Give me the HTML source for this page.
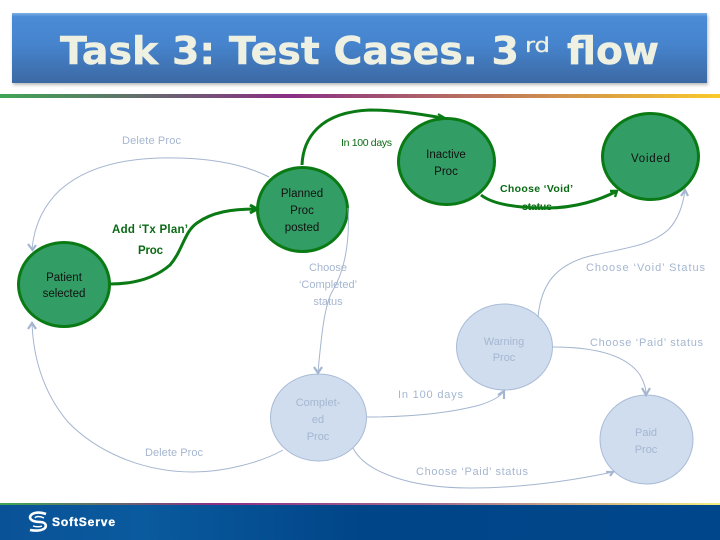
<!DOCTYPE html>
<html>
<head>
<meta charset="utf-8">
<style>
html,body{margin:0;padding:0;background:#fff;width:720px;height:540px;overflow:hidden}
svg{display:block}
text{font-family:"Liberation Sans",sans-serif;font-size:11.5px}
.c{text-anchor:middle}
.k{fill:#111}
.l{fill:#a5b6d0;font-size:11px}
.g{fill:#0a6a14;font-weight:bold}
.t{font-family:"DejaVu Sans",sans-serif;font-weight:bold;fill:#eef1e2}
</style>
</head>
<body>
<svg width="720" height="540" viewBox="0 0 720 540" xmlns="http://www.w3.org/2000/svg">
<defs>
<linearGradient id="bar" x1="0" y1="0" x2="0" y2="1">
<stop offset="0" stop-color="#7fb0e2"/>
<stop offset="0.05" stop-color="#4a8bd6"/>
<stop offset="0.45" stop-color="#4684cd"/>
<stop offset="1" stop-color="#3c69a3"/>
</linearGradient>
<linearGradient id="rule" x1="0" y1="0" x2="1" y2="0">
<stop offset="0" stop-color="#3fa654"/>
<stop offset="0.4" stop-color="#8a2f85"/>
<stop offset="1" stop-color="#fbc92a"/>
</linearGradient>
<linearGradient id="foot" x1="0" y1="0" x2="1" y2="0">
<stop offset="0" stop-color="#0a5298"/>
<stop offset="0.2" stop-color="#0a5a9e"/>
<stop offset="0.5" stop-color="#004588"/>
<stop offset="1" stop-color="#00468a"/>
</linearGradient>
<linearGradient id="rule2" x1="0" y1="0" x2="1" y2="0">
<stop offset="0" stop-color="#3fa654"/>
<stop offset="0.3" stop-color="#8a2f85"/>
<stop offset="0.6" stop-color="#a06a90"/>
<stop offset="1" stop-color="#f4ee80"/>
</linearGradient>
<filter id="sh" x="-2%" y="-10%" width="104%" height="125%"><feGaussianBlur stdDeviation="1.5"/></filter>
</defs>

<rect x="13" y="15" width="695" height="70" fill="#777" opacity="0.5" filter="url(#sh)"/>
<rect x="12" y="13" width="695" height="70" fill="url(#bar)"/>
<text class="t" x="60" y="64" style="font-size:38px" stroke="#eef1e2" stroke-width="0.5" textLength="459" lengthAdjust="spacingAndGlyphs">Task 3: Test Cases. 3</text>
<text class="t" x="525" y="52" style="font-size:20px;font-weight:normal" stroke="#eef1e2" stroke-width="0.3" textLength="25" lengthAdjust="spacingAndGlyphs">rd</text>
<text class="t" x="567" y="64" style="font-size:38px" stroke="#eef1e2" stroke-width="0.5" textLength="92" lengthAdjust="spacingAndGlyphs">flow</text>
<rect x="0" y="94" width="720" height="4" fill="url(#rule)"/>

<g fill="#339d66" stroke="#0a7a14" stroke-width="3">
<ellipse cx="64" cy="284.5" rx="45.5" ry="42"/>
<ellipse cx="302.5" cy="209.5" rx="45" ry="42"/>
<ellipse cx="446.5" cy="161.5" rx="48" ry="43"/>
<ellipse cx="650.5" cy="156.5" rx="48" ry="43"/>
</g>
<g fill="#d0ddef" stroke="#a9bbd6" stroke-width="1">
<ellipse cx="318.5" cy="417.5" rx="48" ry="43.5"/>
<ellipse cx="504.5" cy="347" rx="48" ry="43"/>
<ellipse cx="646.5" cy="439.5" rx="46.5" ry="44.5"/>
</g>

<text class="g" x="522" y="210" style="font-size:10.5px" textLength="30" lengthAdjust="spacing">status</text>

<g fill="none" stroke="#a5b6d0" stroke-width="1">
<path d="M269,177 C240,162 200,157 160,158 C120,159 85,168 60,190 C42,207 34,228 32,249"/>
<path d="M348,208 C350,240 345,270 333,290 C324,305 321,340 318,372"/>
<path d="M283,450 C262,462 225,472 193,472 C140,472 95,450 68,422 C45,395 33,360 32,322"/>
<path d="M367,417 C410,417 450,413 480,405 C492,401 500,397 504,391"/>
<path d="M553,347 C590,347 625,353 640,375 C644,382 646,388 646,394"/>
<path d="M353,448 C365,472 410,488 470,488 C525,488 575,480 613,472"/>
<path d="M538,317 C541,285 555,265 590,256 C625,248 650,246 668,230 C678,220 683,205 685,190"/>
</g>
<g fill="none" stroke="#a5b6d0" stroke-width="2.2">
<polyline points="28,244 32.5,250 36,245"/>
<polyline points="28,329 32,323 36,329"/>
<polyline points="314,367 318,373 322,367"/>
<polyline points="498,395 504,391 504,399"/>
<polyline points="642,388 646,395 650,388"/>
<polyline points="606,472 613,472 610,476"/>
<polyline points="681,196 685,190 688,196"/>
</g>

<g fill="none" stroke="#0a7a14" stroke-width="3">
<path d="M110,284 C135,284 155,278 170,265 C183,250 184,232 197,223 C212,212 232,209 256,209"/>
<path d="M302,165 C303,140 318,112 370,110 C395,110 420,114 443,118"/>
<path d="M481,195 C495,206 525,208 547,208 C575,208 600,200 617,191"/>
<polyline points="250,205 257,209 250,213"/>
<polyline points="438,114 445,118 438,120" stroke-width="2"/>
<polyline points="610,191 617,191 615,197" stroke-width="2.4"/>
</g>

<text class="l" x="122" y="144" textLength="59" lengthAdjust="spacing">Delete Proc</text>
<text class="g" x="341" y="146" style="font-weight:normal;font-size:10.5px" textLength="51" lengthAdjust="spacing">In 100 days</text>
<text class="k c" x="446" y="158">Inactive</text>
<text class="k c" x="446" y="175">Proc</text>
<text class="k" x="631" y="162" textLength="39" lengthAdjust="spacing">Voided</text>
<text class="g" x="500" y="192" style="font-size:10.5px" textLength="73" lengthAdjust="spacing">Choose ‘Void’</text>
<text class="k c" x="302" y="197">Planned</text>
<text class="k c" x="302" y="214">Proc</text>
<text class="k c" x="302" y="231">posted</text>
<text class="g" x="112" y="233" textLength="76" lengthAdjust="spacing">Add ‘Tx Plan’</text>
<text class="g" x="138" y="254" textLength="25" lengthAdjust="spacing">Proc</text>
<text class="k c" x="64" y="281">Patient</text>
<text class="k c" x="64" y="297">selected</text>
<text class="l c" x="328" y="271">Choose</text>
<text class="l c" x="328" y="288">‘Completed’</text>
<text class="l c" x="328" y="305">status</text>
<text class="l" x="586" y="271" textLength="119" lengthAdjust="spacing">Choose ‘Void’ Status</text>
<text class="l" x="590" y="346" textLength="113" lengthAdjust="spacing">Choose ‘Paid’ status</text>
<text class="l c" x="504" y="345">Warning</text>
<text class="l c" x="504" y="361">Proc</text>
<text class="l" x="398" y="398" textLength="65" lengthAdjust="spacing">In 100 days</text>
<text class="l c" x="318" y="406">Complet-</text>
<text class="l c" x="318" y="423">ed</text>
<text class="l c" x="318" y="440">Proc</text>
<text class="l" x="145" y="456" textLength="58" lengthAdjust="spacing">Delete Proc</text>
<text class="l" x="416" y="475" textLength="112" lengthAdjust="spacing">Choose ‘Paid’ status</text>
<text class="l c" x="646" y="436">Paid</text>
<text class="l c" x="646" y="453">Proc</text>

<rect x="0" y="505" width="720" height="35" fill="url(#foot)"/>
<rect x="0" y="503" width="720" height="2" fill="url(#rule2)"/>
<g fill="none" stroke="#fff" stroke-width="2.6">
<path d="M46,514 C38,511 31,513 30,517 C30,521 36,522 40,522 C45,522 47,525 45,528 C42,531 35,531 30,530"/>
<path d="M44,518 C40,516 36,516 35,518 M33,526 C36,527 40,527 42,526" stroke-width="1.4"/>
</g>
<text x="52" y="526" style="font-size:12px;font-weight:bold;fill:#fff" stroke="#fff" stroke-width="0.3" textLength="63" lengthAdjust="spacing">SoftServe</text>
</svg>
</body>
</html>
